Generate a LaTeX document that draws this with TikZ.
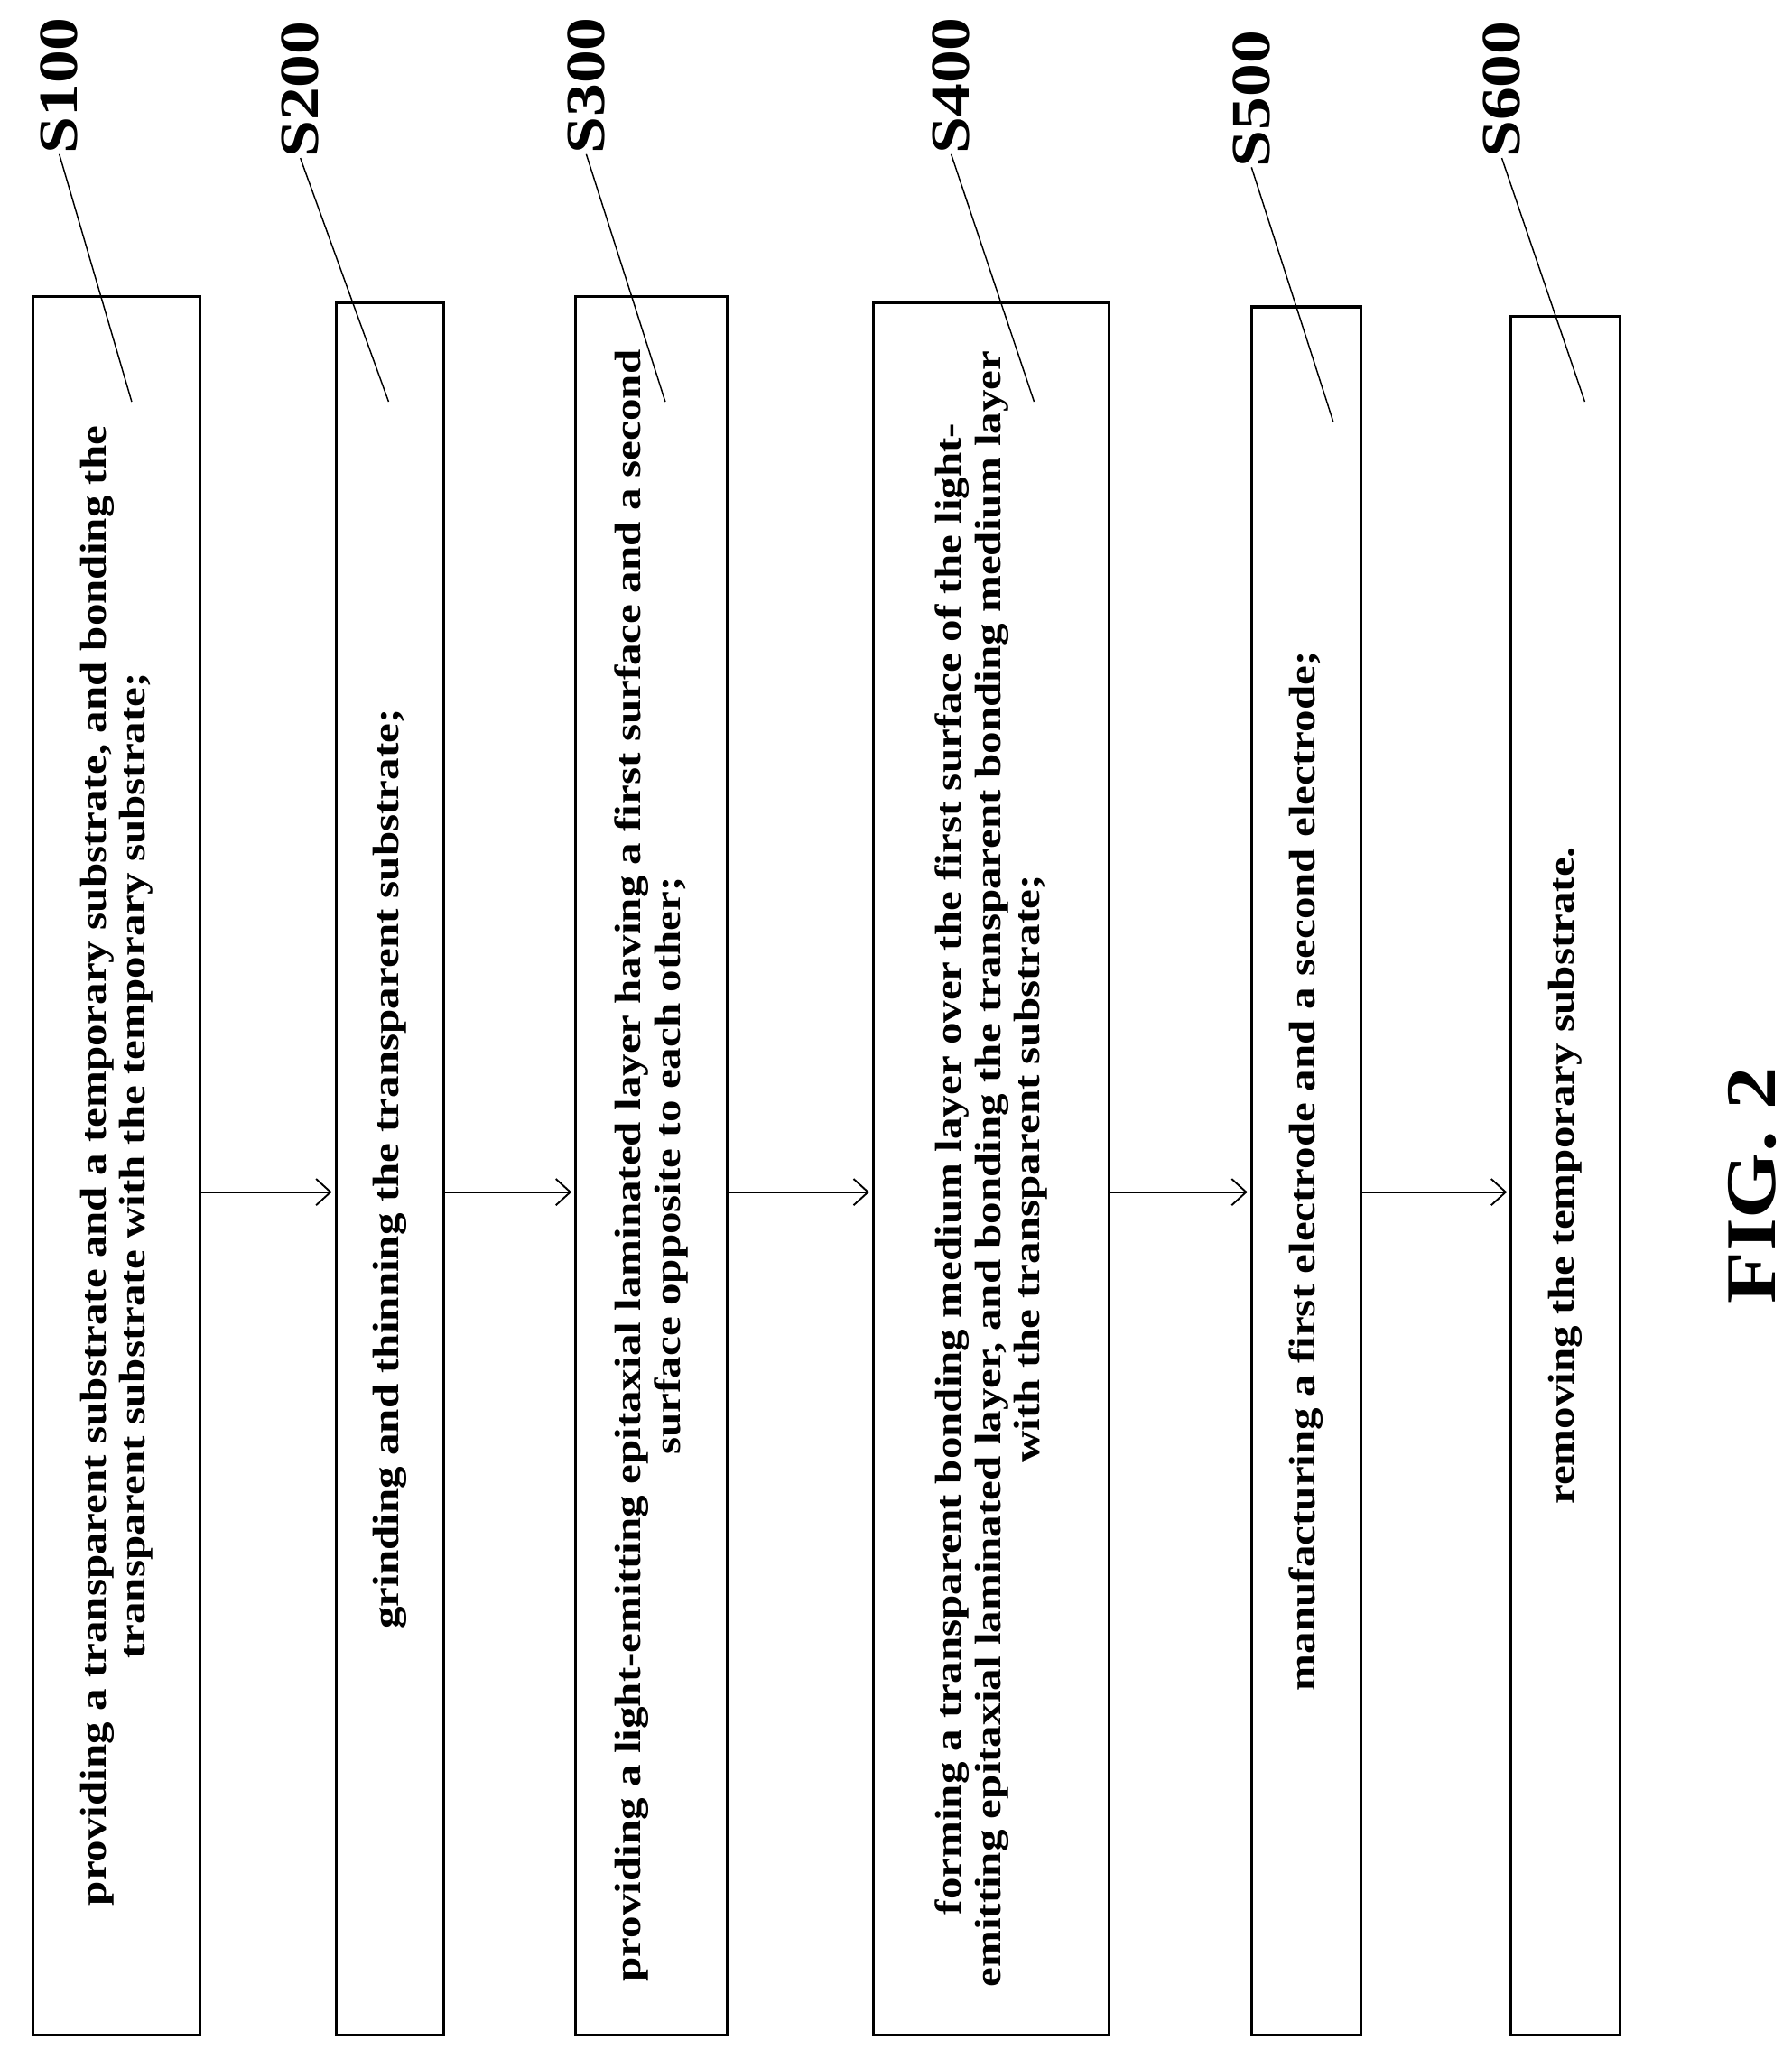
\documentclass[tikz,border=0pt]{standalone}
\usepackage{fontspec}
\setmainfont{Liberation Serif}
\newfontfamily\widefont[FakeStretch=1.2]{Liberation Serif}
\usetikzlibrary{positioning,calc,arrows.meta}
\tikzset{
  stepbox/.style={
    rectangle,
    draw=black, line width=2.2pt,
    rotate=90,
    align=center,
    font=\widefont\bfseries\fontsize{28}{30}\selectfont,
    inner sep=0pt},
  steplabel/.style={rotate=90, font=\widefont\bfseries\fontsize{42}{42}\selectfont, inner sep=0pt},
  line/.style={draw, line width=1pt},
  flow/.style={draw, line width=1.3pt, -{Straight Barb[length=11pt,width=20pt,line width=1.3pt]}, shorten >=2pt},
}

\begin{document}
\begin{tikzpicture}[x=1pt, y=-1pt]
    \useasboundingbox (0,0) rectangle (1360,1570);

    % the six steps
    \node[stepbox, minimum width=1320, minimum height=127] (s100) at (88.5,885)
        {providing a transparent substrate and a temporary substrate, and bonding the\\
         transparent substrate with the temporary substrate;};
    \node[stepbox, minimum width=1315, minimum height=82] (s200) at (296,887.5)
        {grinding and thinning the transparent substrate;};
    \node[stepbox, minimum width=1320, minimum height=115] (s300) at (494.5,885)
        {providing a light-emitting epitaxial laminated layer having a first surface and a second\\
         surface opposite to each other;};
    \node[stepbox, minimum width=1315, minimum height=179] (s400) at (752.5,887.5)
        {forming a transparent bonding medium layer over the first surface of the light-\\
         emitting epitaxial laminated layer, and bonding the transparent bonding medium layer\\
         with the transparent substrate;};
    \node[stepbox, minimum width=1312, minimum height=83] (s500) at (991.5,889)
        {manufacturing a first electrode and a second electrode;};
    \node[stepbox, minimum width=1305, minimum height=83] (s600) at (1188.5,892.5)
        {removing the temporary substrate.};

    % arrows between steps
    \coordinate (ar) at (0,905);
    \draw[flow] (s100.south |- ar) -- (s200.north |- ar);
    \draw[flow] (s200.south |- ar) -- (s300.north |- ar);
    \draw[flow] (s300.south |- ar) -- (s400.north |- ar);
    \draw[flow] (s400.south |- ar) -- (s500.north |- ar);
    \draw[flow] (s500.south |- ar) -- (s600.north |- ar);

    % step labels with leaders
    \node[steplabel] (l100) at (45,65) {S100};
    \node[steplabel] (l200) at (228,68) {S200};
    \node[steplabel] (l300) at (445,65) {S300};
    \node[steplabel] (l400) at (722,65) {S400};
    \node[steplabel] (l500) at (950,75) {S500};
    \node[steplabel] (l600) at (1140,68) {S600};
    \coordinate (p100) at (100,305);
    \coordinate (p200) at (295,305);
    \coordinate (p300) at (505,305);
    \coordinate (p400) at (785,305);
    \coordinate (p500) at (1012,320);
    \coordinate (p600) at (1203,305);
    \draw[line] (l100.west) -- (p100);
    \draw[line] (l200.west) -- (p200);
    \draw[line] (l300.west) -- (p300);
    \draw[line] (l400.west) -- (p400);
    \draw[line] (l500.west) -- (p500);
    \draw[line] (l600.west) -- (p600);

    \node[rotate=90, font=\widefont\bfseries\fontsize{54}{54}\selectfont] (fig) at (1330,900) {FIG. 2};
\end{tikzpicture}
\end{document}
